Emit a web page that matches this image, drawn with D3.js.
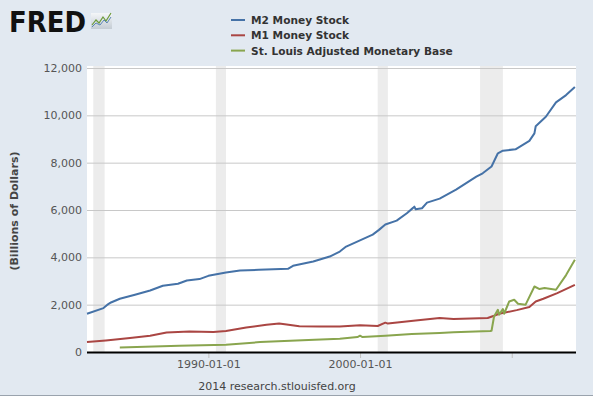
<!DOCTYPE html>
<html><head><meta charset="utf-8">
<script src="https://cdn.jsdelivr.net/npm/d3@7"></script>
<style>
html,body{margin:0;padding:0;background:#e2e9f1;}
svg{display:block;}
text{font-family:"DejaVu Sans",Verdana,sans-serif;}
</style></head>
<body>
<svg id="c" width="593" height="396"></svg>
<script>
// ---- data ----
const seriesNames = ["M2 Money Stock", "M1 Money Stock", "St. Louis Adjusted Monetary Base"];
const seriesColors = ["#4572a7", "#aa4643", "#89a54e"];

const m2Dates = ["1982-01","1983-02","1983-05","1983-08","1984-03","1985-03","1986-03","1987-01","1988-01","1988-08","1989-06","1990-01","1991-03","1992-02","1993-05","1995-04","1995-08","1996-12","1998-01","1998-09","1999-02","2000-11","2001-04","2001-09","2002-06","2003-02","2003-07","2003-08","2003-09","2004-02","2004-06","2005-04","2006-05","2007-09","2008-02","2008-09","2009-02","2009-06","2010-04","2011-03","2011-07","2011-08","2012-04","2012-12","2013-08","2014-03"];
const m2Values = [1616,1856,1990,2093,2249,2417,2600,2797,2882,3022,3080,3219,3358,3443,3472,3514,3641,3823,4033,4244,4455,4960,5160,5390,5552,5864,6090,6143,6033,6075,6312,6480,6860,7409,7552,7840,8396,8506,8565,8920,9240,9540,9940,10550,10856,11200];

const m1Dates = ["1982-01","1983-04","1984-11","1986-03","1987-04","1988-10","1990-05","1991-03","1992-07","1993-11","1994-09","1995-03","1996-01","1997-05","1998-09","2000-01","2001-03","2001-09","2001-11","2003-09","2005-04","2006-03","2008-06","2008-11","2009-03","2010-05","2011-03","2011-08","2012-02","2013-01","2014-03"];
const m1Values = [422,489,590,688,827,869,844,886,1038,1152,1200,1160,1090,1080,1080,1130,1100,1240,1200,1330,1434,1392,1434,1532,1616,1770,1899,2135,2250,2489,2839];

const baseDates = ["1984-03","1988-02","1991-03","1993-06","1997-01","1998-09","1999-11","2000-01","2000-03","2001-09","2003-06","2005-04","2006-03","2008-08","2008-09","2008-11","2009-02","2009-03","2009-06","2009-07","2009-11","2010-03","2010-06","2010-12","2011-07","2011-11","2012-03","2012-12","2013-08","2014-03"];
const baseValues = [194,266,308,420,519,561,633,688,633,688,759,800,830,890,899,1502,1785,1574,1814,1616,2135,2207,2038,2000,2768,2658,2700,2628,3250,3894];

const recessionStarts = ["1982-06","1990-07","2001-03","2007-12"];
const recessionEnds   = ["1983-03","1991-03","2001-11","2009-06"];

const yTicks = [0,2000,4000,6000,8000,10000,12000];
const xTickLabels = ["1990-01-01","2000-01-01"];
const xTickExtra = ["2010-01-01"];
const yTitle = "(Billions of Dollars)";
const footer = "2014 research.stlouisfed.org";

// ---- drawing ----
const parse = d3.timeParse("%Y-%m");
const parseFull = d3.timeParse("%Y-%m-%d");
const svg = d3.select("#c");
const L = 87, R = 576, T = 68, B = 352;

const x = d3.scaleTime().domain([new Date(1982,0,1), new Date(2014,2,28)]).range([L, R]);
const y = d3.scaleLinear().domain([0, 12000]).range([B, T]);

// plot background
svg.append("rect").attr("x", L).attr("y", T - 2).attr("width", R - L).attr("height", B - T + 2).attr("fill", "#ffffff");

// recession bars
svg.append("g").selectAll("rect").data(recessionStarts).join("rect")
  .attr("x", (d) => x(parse(d)))
  .attr("width", (d, i) => x(parse(recessionEnds[i])) - x(parse(d)))
  .attr("y", T - 2).attr("height", B - T + 2)
  .attr("fill", "#ececec");

// grid lines
svg.append("g").selectAll("line").data(yTicks.filter(v => v > 0)).join("line")
  .attr("x1", L).attr("x2", R)
  .attr("y1", d => y(d) + 0.5).attr("y2", d => y(d) + 0.5)
  .attr("stroke", "#c8c8c8").attr("stroke-width", 1);

// y labels
const yAxis = d3.axisLeft(y).tickValues(yTicks).tickSize(0).tickPadding(5).tickFormat(d3.format(","));
const gy = svg.append("g").attr("transform", `translate(${L},0)`).call(yAxis);
gy.select(".domain").remove();
gy.selectAll("text").attr("fill", "#555").attr("font-size", "11px").attr("font-family", "DejaVu Sans, Verdana, sans-serif");

// x axis
const allXTicks = xTickLabels.concat(xTickExtra).map(parseFull);
const xAxis = d3.axisBottom(x).tickValues(allXTicks).tickSize(5).tickPadding(2)
  .tickFormat(d => xTickLabels.includes(d3.timeFormat("%Y-%m-%d")(d)) ? d3.timeFormat("%Y-%m-%d")(d) : "");
const gx = svg.append("g").attr("transform", `translate(0,${B + 1})`).call(xAxis);
gx.select(".domain").remove();
gx.selectAll("line").attr("stroke", "#c0c0c0");
gx.selectAll("text").attr("fill", "#555").attr("font-size", "11px").attr("font-family", "DejaVu Sans, Verdana, sans-serif");
svg.append("line").attr("x1", L).attr("x2", R).attr("y1", B + 0.5).attr("y2", B + 0.5)
  .attr("stroke", "#000").attr("stroke-width", 2);

// series lines
const series = [
  {dates: m2Dates, values: m2Values},
  {dates: m1Dates, values: m1Values},
  {dates: baseDates, values: baseValues}
];
const line = d3.line().x(d => x(d[0])).y(d => y(d[1]));
series.forEach((s, i) => {
  const pts = s.dates.map((d, j) => [parse(d), s.values[j]]);
  svg.append("path").datum(pts).attr("d", line)
    .attr("fill", "none").attr("stroke", seriesColors[i]).attr("stroke-width", 2)
    .attr("stroke-linejoin", "round");
});

// legend
const lg = svg.append("g");
seriesNames.forEach((n, i) => {
  const yy = 20 + i * 15.3;
  lg.append("line").attr("x1", 231).attr("x2", 245).attr("y1", yy).attr("y2", yy)
    .attr("stroke", seriesColors[i]).attr("stroke-width", 2);
  lg.append("text").attr("x", 251).attr("y", yy + 4).text(n)
    .attr("font-size", "10.6px").attr("font-weight", "bold").attr("fill", "#333");
});

// y title
svg.append("text").attr("transform", "translate(18,211) rotate(-90)")
  .attr("text-anchor", "middle").attr("font-size", "11px").attr("font-weight", "bold")
  .attr("fill", "#444").text(yTitle);

// footer
svg.append("text").attr("x", 277).attr("y", 390).attr("text-anchor", "middle")
  .attr("font-size", "11px").attr("fill", "#444").text(footer);
svg.append("line").attr("x1", 0).attr("x2", 593).attr("y1", 395.5).attr("y2", 395.5).attr("stroke", "#9aa3ad");

// FRED logo
svg.append("text").attr("x", 9).attr("y", 32).text("FRED")
  .attr("font-size", "29px").attr("font-weight", "900").attr("fill", "#111")
  .attr("font-family", "DejaVu Sans, Arial, sans-serif")
  .attr("textLength", 77).attr("lengthAdjust", "spacingAndGlyphs");
const grad = svg.append("defs").append("linearGradient").attr("id", "lgrad").attr("x1", 0).attr("x2", 0).attr("y1", 0).attr("y2", 1);
grad.append("stop").attr("offset", 0).attr("stop-color", "#f4f6f8");
grad.append("stop").attr("offset", 1).attr("stop-color", "#c4ccd4");
svg.append("rect").attr("x", 91).attr("y", 13).attr("width", 21).attr("height", 16).attr("fill", "url(#lgrad)");
svg.append("path").attr("d", "M92,25 L96,20 L99,23 L103,17 L106,21 L111,13")
  .attr("fill", "none").attr("stroke", "#6b9a3a").attr("stroke-width", 1.2);
svg.append("path").attr("d", "M92,27 L96,23 L100,25 L104,20 L107,23 L111,17")
  .attr("fill", "none").attr("stroke", "#5b86b5").attr("stroke-width", 1);
</script>
</body></html>
